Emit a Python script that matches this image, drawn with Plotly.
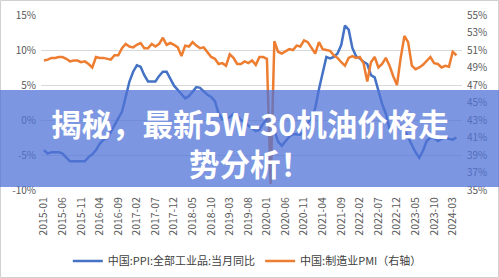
import plotly.graph_objects as go

# months 2015-01 .. 2024-04
months = [f"{y}-{m:02d}" for y in range(2015, 2025) for m in range(1, 13)][:112]

ppi = [-4.3, -4.8, -4.6, -4.6, -4.6, -4.8, -5.4, -5.9, -5.9, -5.9, -5.9, -5.9,
       -5.3, -4.9, -4.3, -3.4, -2.8, -2.6, -1.7, -0.8, 0.1, 1.2, 3.3, 5.5,
       6.9, 7.8, 7.6, 6.4, 5.5, 5.5, 5.5, 6.3, 6.9, 6.9, 5.8, 4.9,
       4.3, 3.7, 3.1, 3.4, 4.1, 4.7, 4.6, 4.1, 3.6, 3.3, 2.7, 0.9,
       0.1, 0.1, 0.4, 0.9, 0.6, 0.0, -0.3, -0.8, -1.2, -1.6, -1.4, -0.5,
       0.1, -0.4, -1.5, -3.1, -3.7, -3.0, -2.4, -2.0, -2.1, -2.1, -1.5, -0.4,
       0.3, 1.7, 4.4, 6.8, 9.0, 8.8, 9.0, 9.5, 10.7, 13.5, 12.9, 10.3,
       9.1, 8.8, 8.3, 8.0, 6.4, 6.1, 4.2, 2.3, 0.9, -1.3, -1.3, -0.7,
       -0.8, -1.4, -2.5, -3.6, -4.6, -5.4, -4.4, -3.0, -2.5, -2.6, -3.0, -2.7,
       -2.5, -2.7, -2.8, -2.5]

pmi = [49.8, 49.9, 50.1, 50.1, 50.2, 50.2, 50.0, 49.7, 49.8, 49.8, 49.6, 49.7,
       49.4, 49.0, 50.2, 50.1, 50.1, 50.0, 49.9, 50.4, 50.4, 51.2, 51.7, 51.4,
       51.3, 51.6, 51.8, 51.2, 51.2, 51.7, 51.4, 51.7, 52.4, 51.6, 51.8, 51.6,
       51.3, 50.3, 51.5, 51.4, 51.9, 51.5, 51.2, 51.3, 50.8, 50.2, 50.0, 49.4,
       49.5, 49.2, 50.5, 50.1, 49.4, 49.4, 49.7, 49.5, 49.8, 49.3, 50.2, 50.2,
       50.0, 35.7, 52.0, 50.8, 50.6, 50.9, 51.1, 51.0, 51.5, 51.4, 52.1, 51.9,
       51.3, 50.6, 51.9, 51.1, 51.0, 50.9, 50.4, 50.1, 49.6, 49.2, 50.1, 50.3,
       50.1, 50.2, 49.5, 47.4, 49.6, 50.2, 49.0, 49.4, 50.1, 49.2, 48.0, 47.0,
       50.1, 52.6, 51.9, 49.2, 48.8, 49.0, 49.3, 49.7, 50.2, 49.5, 49.4, 49.0,
       49.2, 49.1, 50.8, 50.4]

left_ticks = [15, 10, 5, 0, -5, -10]
right_ticks = [55, 53, 51, 49, 47, 45, 43, 41, 39, 37, 35]
xticks = months[::5]

name_ppi = "中国:PPI:全部工业品:当月同比"
name_pmi = "中国:制造业PMI（右轴）"
title_text = "揭秘，最新5W-30机油价格走<br>势分析！"

font_family = "Noto Sans CJK SC, DejaVu Sans, sans-serif"

fig = go.Figure()
fig.add_trace(go.Scatter(x=months, y=ppi, mode="lines", name=name_ppi,
                         line=dict(color="#4472C4", width=2.5)))
fig.add_trace(go.Scatter(x=months, y=pmi, mode="lines", name=name_pmi, yaxis="y2",
                         line=dict(color="#ED7D31", width=2.5)))

L, R, T, B = 41, 37, 15, 88
W, H = 499, 278
pw, ph = W - L - R, H - T - B

def px(x):
    return (x - L) / pw

def py(y):
    return (H - B - y) / ph

fig.update_layout(
    width=W, height=H,
    margin=dict(l=L, r=R, t=T, b=B, autoexpand=False),
    paper_bgcolor="white", plot_bgcolor="white",
    font=dict(family=font_family, color="#595959", size=10),
    showlegend=True,
    legend=dict(orientation="h", x=0.49, xanchor="center",
                yref="container", y=1 - 261 / H, yanchor="middle",
                font=dict(size=11, color="#404040"), itemwidth=30,
                bgcolor="rgba(0,0,0,0)"),
    xaxis=dict(type="category", tickmode="array", tickvals=xticks, ticktext=xticks,
               tickangle=-90, showgrid=False, zeroline=False, showline=False,
               ticks="", tickfont=dict(size=10.5, color="#595959"),
               ticklabelstandoff=4, automargin=False,
               range=[-0.8, len(months) + 0.5]),
    yaxis=dict(range=[-10, 15], tickvals=left_ticks,
               ticktext=[f"{v}%" for v in left_ticks],
               showgrid=True, gridcolor="#D9D9D9", gridwidth=1, zeroline=False,
               showline=False, ticks="", tickfont=dict(size=10, color="#595959"),
               ticklabelstandoff=4, automargin=False),
    yaxis2=dict(range=[35, 55], tickvals=right_ticks,
                ticktext=[f"{v}%" for v in right_ticks],
                overlaying="y", side="right", showgrid=False, zeroline=False,
                showline=False, ticks="", tickfont=dict(size=10, color="#595959"),
                ticklabelstandoff=4, automargin=False),
)

# outer light border
fig.add_shape(type="rect", xref="paper", yref="paper",
              x0=px(0.5), x1=px(W - 0.5), y0=py(H - 0.5), y1=py(0.5),
              line=dict(color="#D0D0D0", width=1), fillcolor="rgba(0,0,0,0)",
              layer="below")

# translucent banner
fig.add_shape(type="rect", xref="paper", yref="paper",
              x0=px(0), x1=px(W), y0=py(187), y1=py(90),
              line=dict(width=0), fillcolor="rgba(80,115,215,0.75)", layer="above")

fig.add_annotation(text=title_text, xref="paper", yref="paper",
                   x=px(250), y=py(143), xanchor="center", yanchor="middle",
                   showarrow=False, align="center",
                   font=dict(family=font_family, size=30.5, color="white", weight="bold"))

fig.write_html("out.html")
